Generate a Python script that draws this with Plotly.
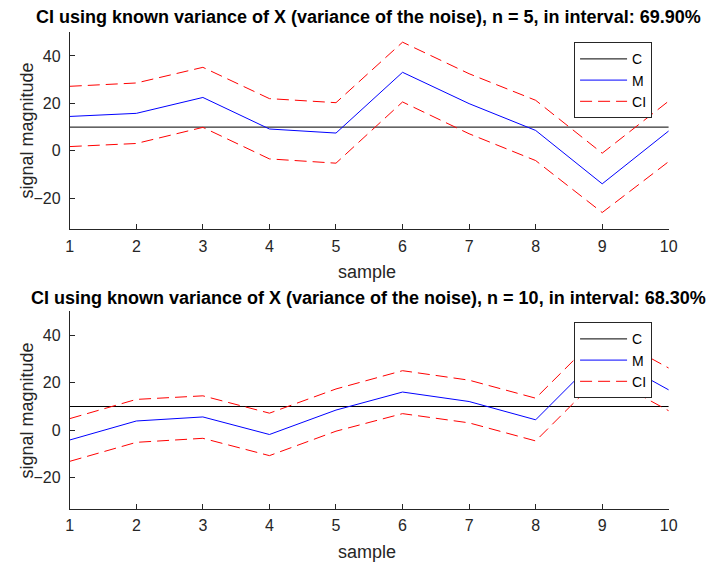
import plotly.graph_objects as go

W, H = 719, 563

samples = [1, 2, 3, 4, 5, 6, 7, 8, 9, 10]
c_value = [10] * 10

m_top = [14.5, 15.8, 22.5, 9.2, 7.5, 33.1, 19.9, 8.6, -13.9, 8.4]
ci_hi_top = [27.2, 28.6, 35.2, 22.0, 20.3, 45.8, 32.5, 21.3, -1.0, 21.0]
ci_lo_top = [1.8, 3.1, 9.9, -3.4, -5.2, 20.6, 7.2, -4.1, -26.0, -4.5]

m_bot = [-4.1, 3.9, 5.6, -1.8, 8.5, 16.1, 12.1, 4.4, 32.5, 17.0]
ci_hi_bot = [4.9, 13.0, 14.5, 7.2, 17.4, 25.1, 21.1, 13.5, 41.5, 26.2]
ci_lo_bot = [-13.1, -5.1, -3.4, -10.7, -0.4, 7.0, 3.1, -4.5, 23.5, 8.2]

titles = [
    "CI using known variance of X (variance of the noise), n = 5, in interval: 69.90%",
    "CI using known variance of X (variance of the noise), n = 10, in interval: 68.30%",
]
y_ticks = [-20, 0, 20, 40]
y_range = [-33.07, 50.3]

FONT = "Liberation Sans, Arial, sans-serif"
AX = "#262626"

fig = go.Figure()

panels = [
    ("x", "y", "legend", m_top, ci_hi_top, ci_lo_top),
    ("x2", "y2", "legend2", m_bot, ci_hi_bot, ci_lo_bot),
]
for xa, ya, lg, m, hi, lo in panels:
    fig.add_trace(go.Scatter(x=samples, y=c_value, mode="lines", name="C",
                             line=dict(color="black", width=1),
                             xaxis=xa, yaxis=ya, legend=lg))
    fig.add_trace(go.Scatter(x=samples, y=m, mode="lines", name="M",
                             line=dict(color="#0000ff", width=1),
                             xaxis=xa, yaxis=ya, legend=lg))
    fig.add_trace(go.Scatter(x=samples, y=hi, mode="lines", name="CI",
                             line=dict(color="#ff0000", width=1, dash="12px,6px"),
                             xaxis=xa, yaxis=ya, legend=lg))
    fig.add_trace(go.Scatter(x=samples, y=lo, mode="lines", name="CI",
                             showlegend=False,
                             line=dict(color="#ff0000", width=1, dash="12px,6px"),
                             xaxis=xa, yaxis=ya, legend=lg))

xd = [67 / W, 677 / W]
top_dom = [(H - 229.3) / H, (H - 31.5) / H]
bot_dom = [(H - 508.7) / H, (H - 310.9) / H]

def xaxis_cfg(anchor):
    return dict(domain=xd, range=[1, 10], tickvals=samples, anchor=anchor,
                showline=True, linecolor=AX, linewidth=1, ticks="inside",
                ticklen=5, tickcolor=AX, showgrid=False, zeroline=False,
                tickfont=dict(family=FONT, size=16, color=AX),
                ticklabelstandoff=2)

def yaxis_cfg(dom, anchor):
    return dict(domain=dom, range=y_range, tickvals=y_ticks, anchor=anchor,
                showline=True, linecolor=AX, linewidth=1, ticks="inside",
                ticklen=5, tickcolor=AX, showgrid=False, zeroline=False,
                tickfont=dict(family=FONT, size=16, color=AX),
                ticklabelstandoff=5)

legend_common = dict(font=dict(family=FONT, size=14, color="black"),
                     bgcolor="white", bordercolor=AX, borderwidth=1,
                     xanchor="right", yanchor="top", x=660 / W,
                     tracegroupgap=0, itemwidth=47)

annotations = []
for title, ty, sy, yc in [(titles[0], 17, 272, 131), (titles[1], 298, 552, 411)]:
    annotations.append(dict(text="<b>" + title + "</b>", x=371 / W, y=1 - ty / H,
                            xref="paper", yref="paper", showarrow=False,
                            xanchor="center", yanchor="middle",
                            font=dict(family=FONT, size=18, color="black")))
    annotations.append(dict(text="sample", x=370 / W, y=1 - sy / H,
                            xref="paper", yref="paper", showarrow=False,
                            xanchor="center", yanchor="middle",
                            font=dict(family=FONT, size=18, color=AX)))
    annotations.append(dict(text="signal magnitude", x=23 / W, y=1 - yc / H,
                            xref="paper", yref="paper", showarrow=False,
                            xanchor="center", yanchor="middle", textangle=-90,
                            font=dict(family=FONT, size=18, color=AX)))

fig.update_layout(
    width=W, height=H,
    margin=dict(l=0, r=0, t=0, b=0),
    paper_bgcolor="white", plot_bgcolor="white",
    xaxis=xaxis_cfg("y"), yaxis=yaxis_cfg(top_dom, "x"),
    xaxis2=xaxis_cfg("y2"), yaxis2=yaxis_cfg(bot_dom, "x2"),
    legend=dict(y=1 - 42.3 / H, **legend_common),
    legend2=dict(y=1 - 322.3 / H, **legend_common),
    annotations=annotations,
    showlegend=True,
)

fig.write_html("out.html",
               config={"displayModeBar": False},
               post_script="document.body.style.margin='0px';"
                           "document.body.style.overflow='hidden';")
